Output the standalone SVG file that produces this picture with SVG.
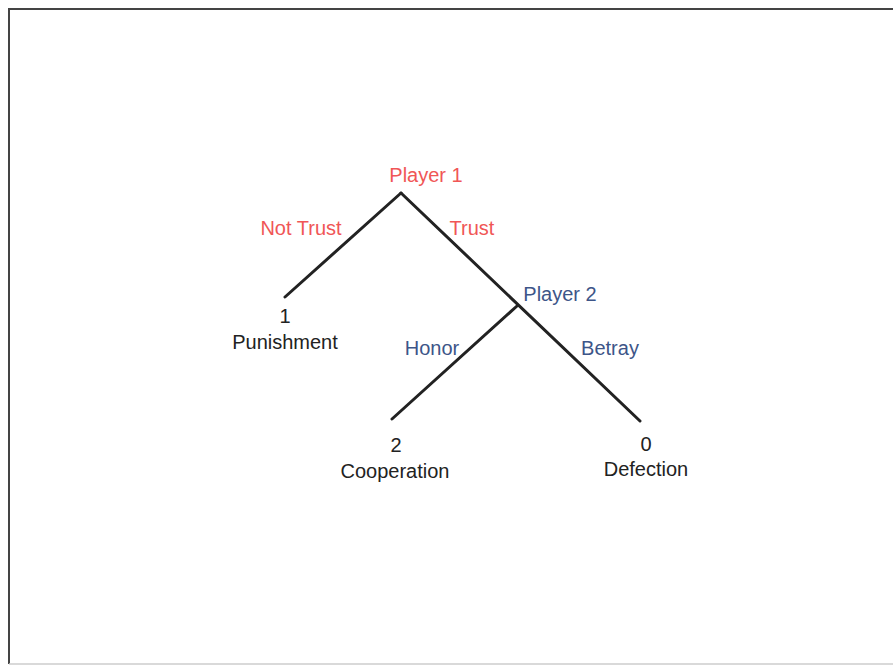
<svg xmlns="http://www.w3.org/2000/svg" width="893" height="669" viewBox="0 0 893 669">
<style>
text{font-family:"Liberation Sans",Arial,sans-serif;font-size:20px;text-anchor:middle}
.r{fill:#f05656}
.b{fill:#3d5588}
.k{fill:#222}
.edge{stroke:#222;stroke-width:3;fill:none;stroke-linecap:round}
</style>
<rect x="0" y="0" width="893" height="669" fill="#fff"/>
<path d="M9,664 V9 H893" fill="none" stroke="#444" stroke-width="2"/>
<path d="M9,664 H893" fill="none" stroke="#ccc" stroke-width="1.5"/>
<g id="connectors">
<line class="edge" x1="401" y1="193" x2="285" y2="297"/>
<line class="edge" x1="401" y1="193" x2="640" y2="421"/>
<line class="edge" x1="517" y1="306" x2="392" y2="419"/>
</g>
<g id="player1"><text class="r" x="426" y="182">Player 1</text></g>
<g id="label-not-trust"><text class="r" x="301" y="235">Not Trust</text></g>
<g id="label-trust"><text class="r" x="472" y="235">Trust</text></g>
<g id="punishment"><text class="k" x="285" y="323">1</text><text class="k" x="285" y="349">Punishment</text></g>
<g id="player2"><text class="b" x="560" y="301">Player 2</text></g>
<g id="label-honor"><text class="b" x="432" y="355">Honor</text></g>
<g id="label-betray"><text class="b" x="610" y="355">Betray</text></g>
<g id="cooperation"><text class="k" x="396" y="452">2</text><text class="k" x="395" y="478">Cooperation</text></g>
<g id="defection"><text class="k" x="646" y="451">0</text><text class="k" x="646" y="476">Defection</text></g>
</svg>
